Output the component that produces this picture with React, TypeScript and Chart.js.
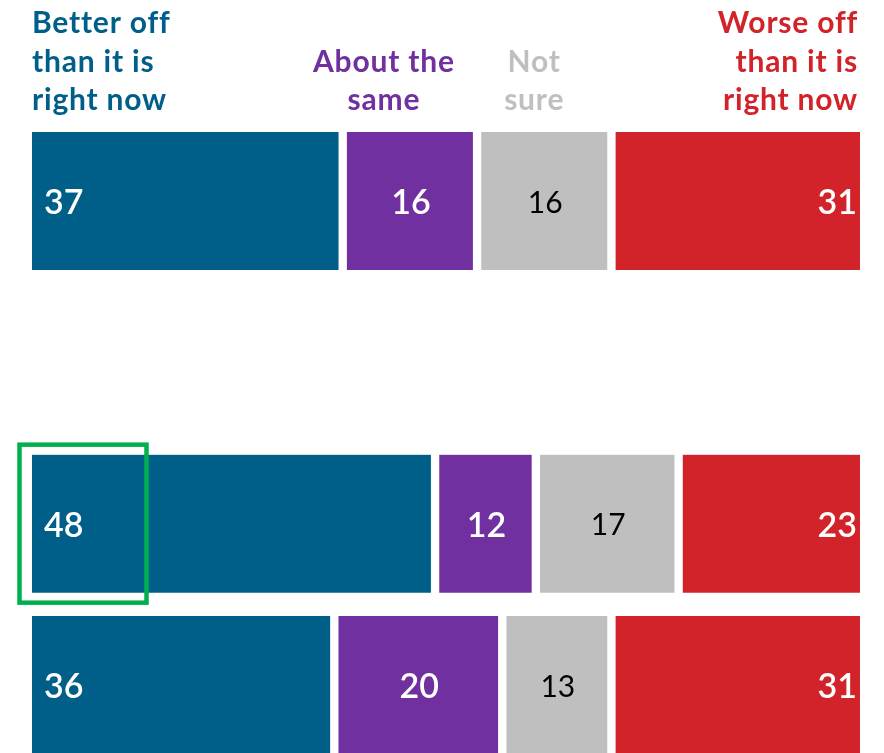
import React, { useEffect, useRef } from "react";
import { Chart, registerables } from "chart.js";

Chart.register(...registerables);

const rows = ["Row 1", "", "Row 2", "Row 3"];
const betterOff = [37, null, 48, 36];
const aboutSame = [16, null, 12, 20];
const notSure = [16, null, 17, 13];
const worseOff = [31, null, 23, 31];

const seriesNames = ["Better off than it is right now", "About the same", "Not sure", "Worse off than it is right now"];
const headerLines = [
  ["Better off", "than it is", "right now"],
  ["About the", "same"],
  ["Not", "sure"],
  ["Worse off", "than it is", "right now"],
];
const colors = ["#005f89", "#7030a0", "#bfbfbf", "#d2232a"];
const valueColors = ["#ffffff", "#ffffff", "#000000", "#ffffff"];
const highlightRow = 2;

const FONT = "Lato, 'Open Sans', sans-serif";

const overlayPlugin = {
  id: "overlay",
  afterDatasetsDraw(chart: any) {
    const ctx = chart.ctx;
    const x = chart.scales.x;
    const y = chart.scales.y;
    const area = chart.chartArea;
    ctx.save();
    // value labels
    chart.data.datasets.forEach((ds: any, di: number) => {
      const meta = chart.getDatasetMeta(di);
      meta.data.forEach((bar: any, i: number) => {
        const v = ds.data[i];
        if (v == null) return;
        const { x: bx, base, y: by } = bar.getProps(["x", "base", "y"], true);
        ctx.fillStyle = valueColors[di];
        ctx.font = (di === 2 ? "400 30px " : "600 34px ") + FONT;
        ctx.textBaseline = "middle";
        if (di === 0) {
          ctx.textAlign = "left";
          ctx.fillText(String(v), base + 12, by + 2);
        } else if (di === 3) {
          ctx.textAlign = "right";
          ctx.fillText(String(v), Math.min(bx, area.right) - 3, by + 2);
        } else {
          ctx.textAlign = "center";
          ctx.fillText(String(v), (bx + base) / 2 + 1, by + 2);
        }
      });
    });
    // headers
    ctx.font = "700 30px " + FONT;
    (ctx as any).letterSpacing = "0.8px";
    ctx.textBaseline = "alphabetic";
    const lh = 38.5;
    const firstBase = 33;
    headerLines.forEach((lines, hi) => {
      ctx.fillStyle = colors[hi];
      let px: number;
      if (hi === 0) {
        ctx.textAlign = "left";
        px = x.getPixelForValue(0);
      } else if (hi === 3) {
        ctx.textAlign = "right";
        px = area.right - 2;
      } else if (hi === 1) {
        ctx.textAlign = "center";
        px = x.getPixelForValue(41.9);
      } else {
        ctx.textAlign = "center";
        px = x.getPixelForValue(59.8);
      }
      lines.forEach((ln, li) => {
        const lineIdx = lines.length === 3 ? li : li + 1;
        ctx.fillText(ln, px, firstBase + lineIdx * lh);
      });
    });
    (ctx as any).letterSpacing = "0px";
    // highlight rectangle
    const cy = y.getPixelForValue(highlightRow);
    const half = 79;
    const left = x.getPixelForValue(0) - 12.5;
    ctx.strokeStyle = "#00b050";
    ctx.lineWidth = 4.5;
    ctx.strokeRect(left, cy - half, 127, half * 2);
    ctx.restore();
  },
};

export default function App() {
  const ref = useRef<HTMLCanvasElement | null>(null);
  useEffect(() => {
    if (!ref.current) return;
    const series = [betterOff, aboutSame, notSure, worseOff];
    const borders = [
      { left: 0, right: 4.5, top: 0, bottom: 0 },
      { left: 4.5, right: 4.5, top: 0, bottom: 0 },
      { left: 4.5, right: 4.5, top: 0, bottom: 0 },
      { left: 4.5, right: 0, top: 0, bottom: 0 },
    ];
    const chart = new Chart(ref.current, {
      type: "bar",
      data: {
        labels: rows,
        datasets: series.map((d, i) => ({
          label: seriesNames[i],
          data: d,
          backgroundColor: colors[i],
          borderColor: "#ffffff",
          borderWidth: borders[i],
          borderSkipped: false,
          barThickness: 138,
          clip: { left: 0, right: 0, top: false, bottom: false },
        })) as any,
      },
      options: {
        indexAxis: "y",
        animation: false,
        responsive: false,
        maintainAspectRatio: false,
        layout: { padding: { left: 32, right: 24, top: 201, bottom: 68 } },
        plugins: { legend: { display: false }, tooltip: { enabled: false } },
        scales: {
          x: { stacked: true, min: 0, max: 98.6, display: false },
          y: { stacked: true, display: false, offset: false, grid: { offset: false } },
        },
      },
      plugins: [overlayPlugin],
    });
    return () => chart.destroy();
  }, []);
  return (
    <div style={{ position: "fixed", left: 0, top: 0, width: 884, height: 753, background: "#fff" }}>
      <canvas ref={ref} width={884} height={753} style={{ display: "block", width: 884, height: 753 }} />
    </div>
  );
}
